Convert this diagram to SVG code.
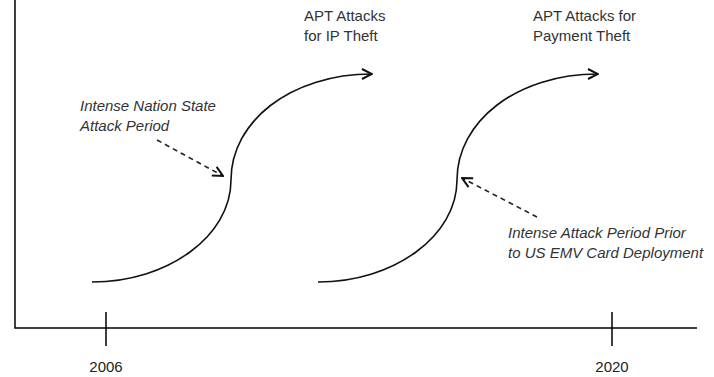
<svg xmlns="http://www.w3.org/2000/svg" width="714" height="377" viewBox="0 0 714 377">
  <defs>
    <style>
      .axis { stroke: #000; stroke-width: 1.5; fill: none; }
      .curve { stroke: #111; stroke-width: 1.6; fill: none; marker-end: url(#open); }
      .callout { stroke: #222; stroke-width: 1.6; fill: none; stroke-dasharray: 5 4; marker-end: url(#open); }
      .lbl { font-family: "Liberation Sans", Arial, sans-serif; font-size: 15px; fill: #333; }
      .note { font-family: "Liberation Sans", Arial, sans-serif; font-size: 15px; font-style: italic; fill: #333; }
      .year { font-family: "Liberation Sans", Arial, sans-serif; font-size: 15px; fill: #222; text-anchor: middle; }
    </style>
    <marker id="open" viewBox="0 0 12 12" refX="11" refY="6" markerWidth="12" markerHeight="12" markerUnits="userSpaceOnUse" orient="auto">
      <path d="M1,1 L11,6 L1,11" fill="none" stroke="#111" stroke-width="2"/>
    </marker>
  </defs>

  <!-- axes and year ticks -->
  <g id="axes">
    <path class="axis" d="M15,0 V328 H697"/>
    <path class="axis" d="M106,312 V346 M612,312 V346"/>
    <text class="year" x="106" y="372">2006</text>
    <text class="year" x="612" y="372">2020</text>
  </g>

  <g id="connectors">
    <!-- S-curves -->
    <path class="curve" d="M92,282 C168,282 231,236 231,180 C231,122 290,74 372,74"/>
    <path class="curve" d="M318,282 C394,282 457,236 457,180 C457,122 516,74 598,74"/>
    <!-- dashed callouts -->
    <path class="callout" d="M157,140 L223,176"/>
    <path class="callout" d="M537,217 L462,178"/>
  </g>

  <g id="ip-theft">
    <text class="lbl" x="304" y="21">APT Attacks</text>
    <text class="lbl" x="304" y="41">for IP Theft</text>
  </g>

  <g id="payment-theft">
    <text class="lbl" x="533" y="21">APT Attacks for</text>
    <text class="lbl" x="533" y="41">Payment Theft</text>
  </g>

  <g id="nation-state-period">
    <text class="note" x="80" y="111">Intense Nation State</text>
    <text class="note" x="80" y="131">Attack Period</text>
  </g>

  <g id="emv-period">
    <text class="note" x="508" y="238">Intense Attack Period Prior</text>
    <text class="note" x="508" y="258">to US EMV Card Deployment</text>
  </g>
</svg>
